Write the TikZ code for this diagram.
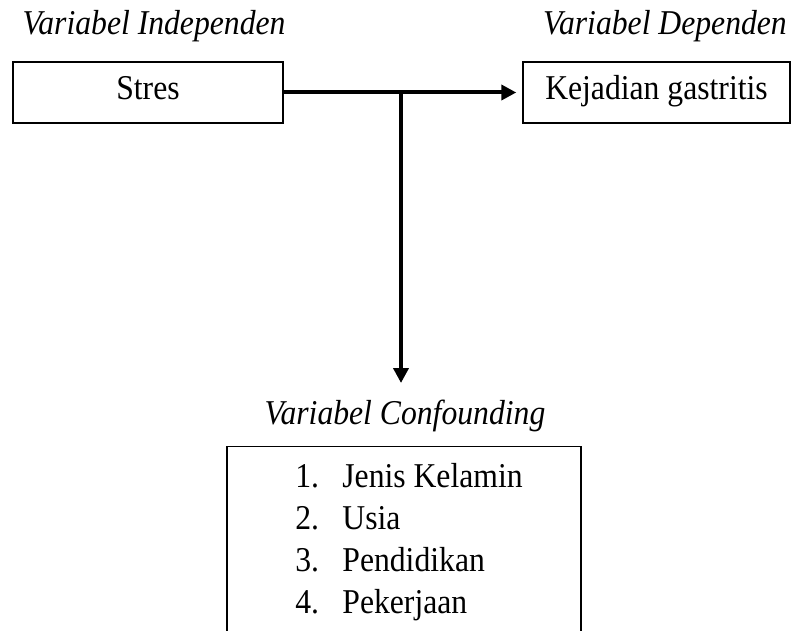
\documentclass[tikz,border=0pt]{standalone}
\usepackage{fontspec}
\setmainfont{Liberation Serif}[FakeStretch=0.91]
\usetikzlibrary{arrows.meta}
\begin{document}
\begin{tikzpicture}[x=0.5pt,y=-0.5pt,
		font=\fontsize{17.4}{21}\selectfont,
		varbox/.style={draw,line width=0.7pt,minimum height=30.5pt,inner sep=0pt,text height=0.82em,text depth=0.13em},
		vartitle/.style={anchor=base,font=\fontsize{17.4}{21}\selectfont\itshape},
		listtext/.style={anchor=base west,inner sep=0pt},
		link/.style={line width=2pt,-{Triangle[length=7.5pt,width=7.5pt]}}]
		\useasboundingbox (0,0) rectangle (792,631);
		\clip (0,0) rectangle (792,631);
		\node[vartitle] (indep) at (154,35){Variabel Independen};
		\node[vartitle] (dep) at (665,35){Variabel Dependen};
		\node[varbox,minimum width=135pt] (stres) at (148,92.5){Stres};
		\node[varbox,minimum width=133.5pt] (gastritis) at (656.5,92.5){Kejadian gastritis};
		\node[vartitle] (conf) at (405,424){Variabel Confounding};
		\node[varbox,anchor=north,minimum width=177pt,minimum height=110pt] (confbox) at (404,446){};
		\foreach \n/\txt in {1/Jenis Kelamin,2/Usia,3/Pendidikan,4/Pekerjaan}{
			\node[listtext] (num\n) at (295,445+42*\n){\n.};
			\node[listtext] (item\n) at (342,445+42*\n){\txt};
		}
		\coordinate (split) at (401,92.5);
		\coordinate (down) at (401,383);
		\draw[link,shorten >=3pt] (stres.east)--(gastritis.west);
		\draw[link] (split)--(down);
	\end{tikzpicture}
\end{document}
